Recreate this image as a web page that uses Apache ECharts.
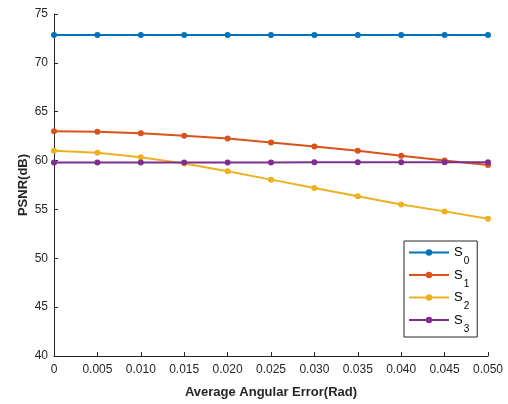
<!DOCTYPE html>
<html>
<head>
<meta charset="utf-8">
<script src="https://cdn.jsdelivr.net/npm/echarts@6/dist/echarts.min.js"></script>
<style>
  html, body { margin: 0; padding: 0; background: #fff; }
  #chart { width: 508px; height: 404px; }
</style>
</head>
<body>
<div id="chart"></div>
<script>
// angular error (rad)
var errors = [0, 0.005, 0.010, 0.015, 0.020, 0.025, 0.030, 0.035, 0.040, 0.045, 0.050]
var s0 = [72.85, 72.85, 72.85, 72.85, 72.85, 72.85, 72.85, 72.85, 72.85, 72.85, 72.85]
var s1 = [63.0, 62.95, 62.8, 62.55, 62.25, 61.85, 61.45, 61.0, 60.5, 60.0, 59.55]
var s2 = [61.0, 60.8, 60.35, 59.7, 58.9, 58.05, 57.2, 56.35, 55.5, 54.8, 54.05]
var s3 = [59.8, 59.8, 59.8, 59.8, 59.8, 59.8, 59.82, 59.82, 59.82, 59.82, 59.82]
var names = ['S0', 'S1', 'S2', 'S3']
var colors = ['#0072BD', '#D95319', '#EDB120', '#7E2F8E']

var chart = echarts.init(document.getElementById('chart'))

function pairs(vals) {
  return vals.map(function (v, i) { return [errors[i], v] })
}

function makeSeries(name, vals, color) {
  return {
    name: name,
    type: 'line',
    data: pairs(vals),
    symbol: 'circle',
    symbolSize: 6,
    showAllSymbol: true,
    animation: false,
    lineStyle: { color: color, width: 2 },
    itemStyle: { color: color }
  }
}

var axisColor = '#262626'
var font = 'Liberation Sans, Arial, sans-serif'

chart.setOption({
  grid: { left: 54, right: 20, top: 14, bottom: 48 },
  legend: {
    orient: 'vertical',
    left: 404,
    top: 241,
    padding: [5, 8, 3, 4],
    itemGap: 2,
    itemWidth: 40,
    itemHeight: 8,
    borderColor: axisColor,
    borderWidth: 1,
    data: names,
    formatter: function (n) { return '{s|S}{sub|' + n.slice(1) + '}' },
    textStyle: {
      fontFamily: font,
      color: '#000',
      rich: {
        s: { fontSize: 13, fontFamily: font, lineHeight: 20, verticalAlign: 'middle' },
        sub: { fontSize: 10, fontFamily: font, lineHeight: 20, verticalAlign: 'bottom', padding: [0, 0, -4, 1] }
      }
    }
  },
  xAxis: {
    type: 'value',
    min: 0,
    max: 0.05,
    interval: 0.005,
    name: 'Average Angular Error(Rad)',
    nameLocation: 'middle',
    nameGap: 30,
    nameMoveOverlap: false,
    nameTextStyle: { fontFamily: font, fontSize: 13, fontWeight: 'bold', color: axisColor },
    axisLine: { lineStyle: { color: axisColor } },
    axisTick: { inside: true, length: 4, lineStyle: { color: axisColor } },
    splitLine: { show: false },
    axisLabel: {
      fontFamily: font,
      fontSize: 12,
      color: axisColor,
      margin: 8,
      formatter: function (v) { return v === 0 ? '0' : v.toFixed(3) }
    }
  },
  yAxis: {
    type: 'value',
    min: 40,
    max: 75,
    interval: 5,
    name: 'PSNR(dB)',
    nameLocation: 'middle',
    nameGap: 24,
    nameMoveOverlap: false,
    nameTextStyle: { fontFamily: font, fontSize: 13, fontWeight: 'bold', color: axisColor },
    axisLine: { show: true, lineStyle: { color: axisColor } },
    axisTick: { show: true, inside: true, length: 4, lineStyle: { color: axisColor } },
    splitLine: { show: false },
    axisLabel: { fontFamily: font, fontSize: 12, color: axisColor, margin: 6 }
  },
  series: [
    makeSeries('S0', s0, colors[0]),
    makeSeries('S1', s1, colors[1]),
    makeSeries('S2', s2, colors[2]),
    makeSeries('S3', s3, colors[3])
  ]
})
</script>
</body>
</html>
